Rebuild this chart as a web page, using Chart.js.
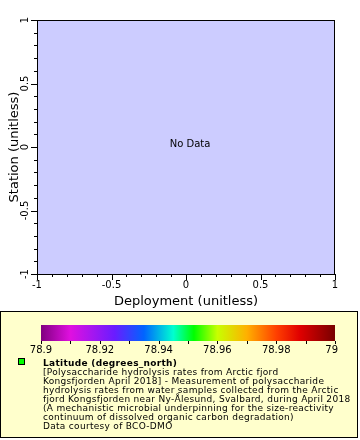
<!DOCTYPE html>
<html>
<head>
<meta charset="utf-8">
<script src="https://cdn.jsdelivr.net/npm/chart.js@4.4.0/dist/chart.umd.min.js"></script>
<style>
  html, body { margin: 0; padding: 0; background: #ffffff; }
  #wrap { width: 360px; height: 440px; position: relative; }
</style>
</head>
<body>
<div id="wrap"><canvas id="myChart" width="360" height="440"></canvas></div>
<script>
// Axis ranges and tick labels
const xRange = [-1, 1];
const yRange = [-1, 1];
const xTickLabels = ['-1', '-0.5', '0', '0.5', '1'];
const yTickLabels = ['-1', '-0.5', '0', '0.5', '1'];

// No data points in this dataset
const stationPoints = [];

// Colour bar (latitude)
const colorRange = [78.9, 79];
const colorTickLabels = ['78.9', '78.92', '78.94', '78.96', '78.98', '79'];
const colorStops = [
    [0.0, '#800080'], [0.1, '#e010e0'], [0.25, '#6a1cff'], [0.35, '#0064ff'],
    [0.45, '#00ffd0'], [0.52, '#00ff00'], [0.6, '#c8ff00'], [0.7, '#ffb000'],
    [0.8, '#ff4000'], [0.88, '#e00000'], [1.0, '#780000']
];

const legendTitle = 'Latitude (degrees_north)';
const legendLines = [
    '[Polysaccharide hydrolysis rates from Arctic fjord',
    'Kongsfjorden April 2018] - Measurement of polysaccharide',
    'hydrolysis rates from water samples collected from the Arctic',
    'fjord Kongsfjorden near Ny-\u00C5lesund, Svalbard, during April 2018',
    '(A mechanistic microbial underpinning for the size-reactivity',
    'continuum of dissolved organic carbon degradation)',
    'Data courtesy of BCO-DMO'
];

const FONT = '"DejaVu Sans", sans-serif';

// Draws plot background, axes, ticks, titles and legend box
const framePlugin = {
    id: 'frame',
    beforeDatasetsDraw(chart) {
        const { ctx, chartArea: a } = chart;
        ctx.save();
        ctx.fillStyle = '#ccccff';
        ctx.fillRect(a.left, a.top, a.right - a.left, a.bottom - a.top);
        ctx.restore();
    },
    afterDraw(chart) {
        const { ctx, chartArea: a, scales } = chart;
        const xs = scales.x, ys = scales.y;
        ctx.save();

        // frame
        ctx.strokeStyle = '#000';
        ctx.lineWidth = 1;
        ctx.strokeRect(a.left + 0.5, a.top + 0.5, a.right - a.left - 1, a.bottom - a.top);

        // No Data
        ctx.fillStyle = '#000';
        ctx.font = '10px ' + FONT;
        ctx.textAlign = 'center';
        ctx.textBaseline = 'middle';
        ctx.fillText('No Data', xs.getPixelForValue(0) + 4, ys.getPixelForValue(0) - 3);

        // x ticks
        for (let i = 0; i <= 20; i++) {
            const v = xRange[0] + i * 0.1;
            const px = Math.round(xs.getPixelForValue(v)) + 0.5;
            const major = i % 5 === 0;
            ctx.beginPath();
            ctx.moveTo(px, a.bottom);
            ctx.lineTo(px, a.bottom + (major ? 6 : 3));
            ctx.stroke();
        }
        ctx.font = '10px ' + FONT;
        ctx.textBaseline = 'top';
        xTickLabels.forEach((t, i) => {
            ctx.fillText(t, xs.getPixelForValue(xRange[0] + i * 0.5), a.bottom + 6);
        });

        // y ticks
        for (let i = 0; i <= 20; i++) {
            const v = yRange[0] + i * 0.1;
            const py = Math.round(ys.getPixelForValue(v)) + 0.5;
            const major = i % 5 === 0;
            ctx.beginPath();
            ctx.moveTo(a.left, py);
            ctx.lineTo(a.left - (major ? 6 : 3), py);
            ctx.stroke();
        }
        yTickLabels.forEach((t, i) => {
            const py = ys.getPixelForValue(yRange[0] + i * 0.5);
            ctx.save();
            ctx.translate(a.left - 7, py);
            ctx.rotate(-Math.PI / 2);
            ctx.textAlign = 'center';
            ctx.textBaseline = 'bottom';
            ctx.fillText(t, 0, 0);
            ctx.restore();
        });

        // axis titles
        ctx.font = '13px ' + FONT;
        ctx.textAlign = 'center';
        ctx.textBaseline = 'alphabetic';
        ctx.fillText('Deployment (unitless)', (a.left + a.right) / 2, a.bottom + 31);
        ctx.save();
        ctx.translate(18, (a.top + a.bottom) / 2);
        ctx.rotate(-Math.PI / 2);
        ctx.fillText('Station (unitless)', 0, 0);
        ctx.restore();

        // legend box
        ctx.fillStyle = '#ffffcc';
        ctx.fillRect(0, 311, 357, 127);
        ctx.strokeStyle = '#000';
        ctx.strokeRect(0.5, 311.5, 357, 126);

        // colour bar
        const cbL = 41, cbR = 335, cbT = 325, cbB = 341;
        const grad = ctx.createLinearGradient(cbL, 0, cbR, 0);
        colorStops.forEach(s => grad.addColorStop(s[0], s[1]));
        ctx.fillStyle = grad;
        ctx.fillRect(cbL, cbT, cbR - cbL, cbB - cbT);
        ctx.strokeStyle = '#000';
        for (let i = 0; i <= 10; i++) {
            const px = Math.round(cbL + (cbR - cbL) * i / 10) + 0.5;
            ctx.beginPath();
            ctx.moveTo(px, cbB);
            ctx.lineTo(px, cbB + 3);
            ctx.stroke();
        }
        ctx.fillStyle = '#000';
        ctx.font = '10px ' + FONT;
        ctx.textBaseline = 'top';
        colorTickLabels.forEach((t, i) => {
            const px = cbL + (cbR - cbL) * i / (colorTickLabels.length - 1);
            ctx.textAlign = i === colorTickLabels.length - 1 ? 'right' : 'center';
            ctx.fillText(t, i === colorTickLabels.length - 1 ? px + 3 : px, cbB + 4);
        });

        // marker
        ctx.fillStyle = '#00ff00';
        ctx.fillRect(19, 359, 5, 5);
        ctx.strokeRect(18.5, 358.5, 6, 6);

        // legend text
        ctx.fillStyle = '#000';
        ctx.textAlign = 'left';
        ctx.textBaseline = 'alphabetic';
        ctx.letterSpacing = '0.3px';
        ctx.font = 'bold 9px ' + FONT;
        ctx.fillText(legendTitle, 43, 366);
        ctx.font = '9px ' + FONT;
        legendLines.forEach((l, i) => {
            ctx.fillText(l, 43, 375 + i * 9);
        });
        ctx.restore();
    }
};

const ctx = document.getElementById('myChart');
new Chart(ctx, {
    type: 'scatter',
    data: {
        datasets: [{
            label: legendTitle,
            data: stationPoints,
            backgroundColor: '#00ff00',
            borderColor: '#000'
        }]
    },
    options: {
        responsive: false,
        animation: false,
        layout: { padding: { left: 37, top: 20, right: 25, bottom: 166 } },
        scales: {
            x: { type: 'linear', min: xRange[0], max: xRange[1], display: false },
            y: { type: 'linear', min: yRange[0], max: yRange[1], display: false }
        },
        plugins: { legend: { display: false }, tooltip: { enabled: false } }
    },
    plugins: [framePlugin]
});
</script>
</body>
</html>
